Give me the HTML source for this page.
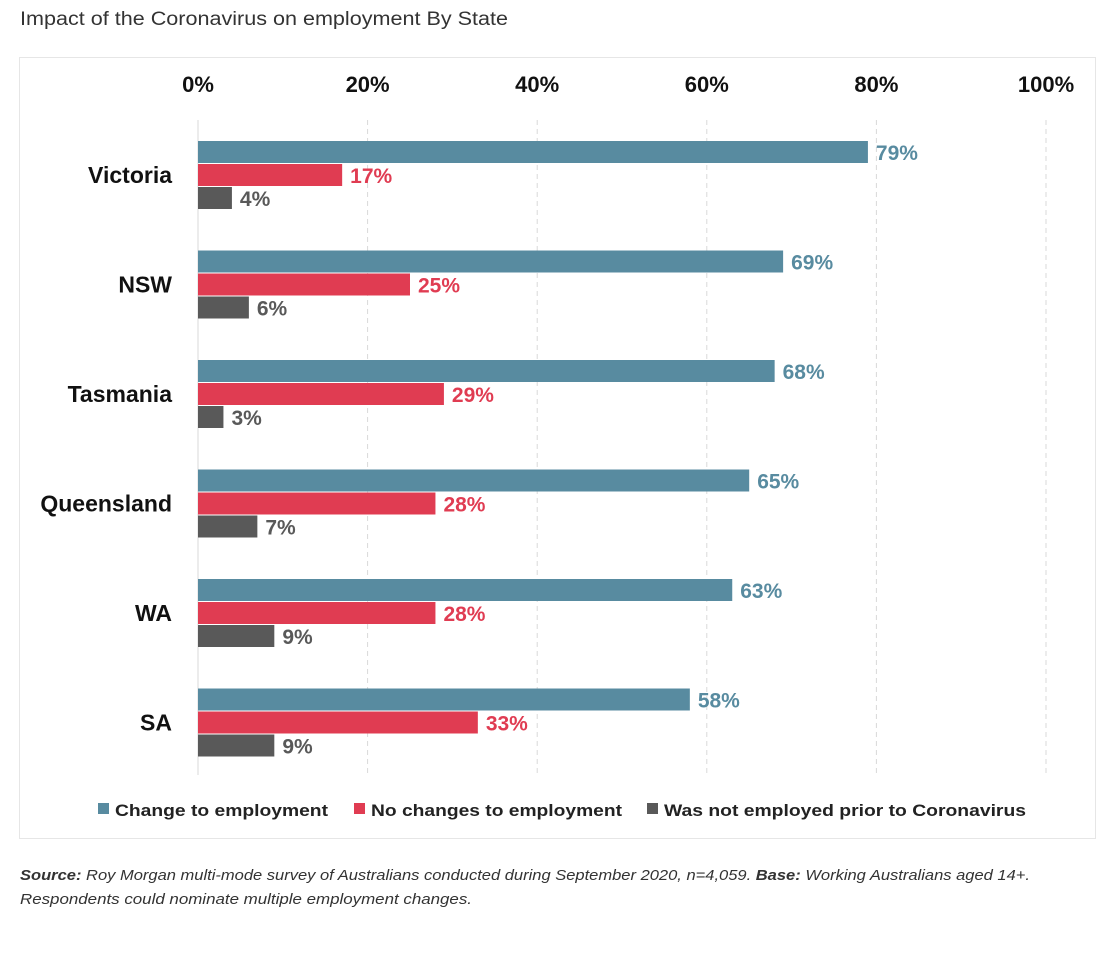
<!DOCTYPE html>
<html><head><meta charset="utf-8"><style>
body{margin:0;width:1102px;height:951px;background:#fff;font-family:"Liberation Sans","DejaVu Sans",sans-serif;overflow:hidden}
</style></head><body>
<svg width="1102" height="951" id="svg">
<text x="20" y="25" font-size="19" fill="#333" textLength="488" lengthAdjust="spacingAndGlyphs">Impact of the Coronavirus on employment By State</text>
<rect x="19.5" y="57.5" width="1076" height="781" fill="#fff" stroke="#e6e6e6"/>
<g id="plot"></g>
<g font-size="17" font-weight="bold" fill="#222">
<rect x="98" y="803" width="11" height="11" fill="#588ba0"/>
<text x="115" y="816" textLength="213" lengthAdjust="spacingAndGlyphs">Change to employment</text>
<rect x="354" y="803" width="11" height="11" fill="#e03c52"/>
<text x="371" y="816" textLength="251" lengthAdjust="spacingAndGlyphs">No changes to employment</text>
<rect x="647" y="803" width="11" height="11" fill="#595959"/>
<text x="664" y="816" textLength="362" lengthAdjust="spacingAndGlyphs">Was not employed prior to Coronavirus</text>
</g>
<text x="20" y="880" font-size="15" font-style="italic" fill="#333" textLength="1010" lengthAdjust="spacingAndGlyphs"><tspan font-weight="bold">Source:</tspan> Roy Morgan multi-mode survey of Australians conducted during September 2020, n=4,059. <tspan font-weight="bold">Base:</tspan> Working Australians aged 14+.</text>
<text x="20" y="904" font-size="15" font-style="italic" fill="#333" textLength="452" lengthAdjust="spacingAndGlyphs">Respondents could nominate multiple employment changes.</text>
</svg>
<script>
const categories=["Victoria","NSW","Tasmania","Queensland","WA","SA"];
const changeVals=[79,69,68,65,63,58];
const noChangeVals=[17,25,29,28,28,33];
const notEmployedVals=[4,6,3,7,9,9];
const ticks=[0,20,40,60,80,100];
const x0=198,x1=1046,plotTop=120,groupH=109.5;
const xs=v=>x0+(x1-x0)*v/100;
const NS="http://www.w3.org/2000/svg";
const g=document.getElementById('plot');
function mk(t,a){const e=document.createElementNS(NS,t);for(const k in a)e.setAttribute(k,a[k]);g.appendChild(e);return e;}
ticks.forEach(t=>{
  if(t>0){const l=mk('line',{x1:xs(t),x2:xs(t),y1:120,y2:775,stroke:'#d9d9d9','stroke-dasharray':'5,4'});
  
  }
  const tx=mk('text',{x:xs(t),y:92,'text-anchor':'middle','font-size':22,'font-weight':'bold',fill:'#111'});tx.textContent=t+'%';
  
  
});
const ax=mk('line',{x1:x0,x2:x0,y1:120,y2:775,stroke:'#d9d9d9'});


const series=[[changeVals,'#588ba0','#588ba0','change'],[noChangeVals,'#e03c52','#e03c52','no-change'],[notEmployedVals,'#595959','#595959','not-employed']];
categories.forEach((c,i)=>{
  const gy=plotTop+groupH*i+21;
  const lb=mk('text',{x:172,y:gy+42,'text-anchor':'end','font-size':23,'font-weight':'bold',fill:'#111'});lb.textContent=c;
  
  
  series.forEach((s,j)=>{
    const v=s[0][i],y=gy+j*23;
    const r=mk('rect',{x:x0,y:y,width:xs(v)-x0,height:22,fill:s[1]});
    
    
    const t=mk('text',{x:xs(v)+8,y:y+19,'font-size':21,'font-weight':'bold',fill:s[2]});t.textContent=v+'%';
    
    
  });
});
</script>
</body></html>
